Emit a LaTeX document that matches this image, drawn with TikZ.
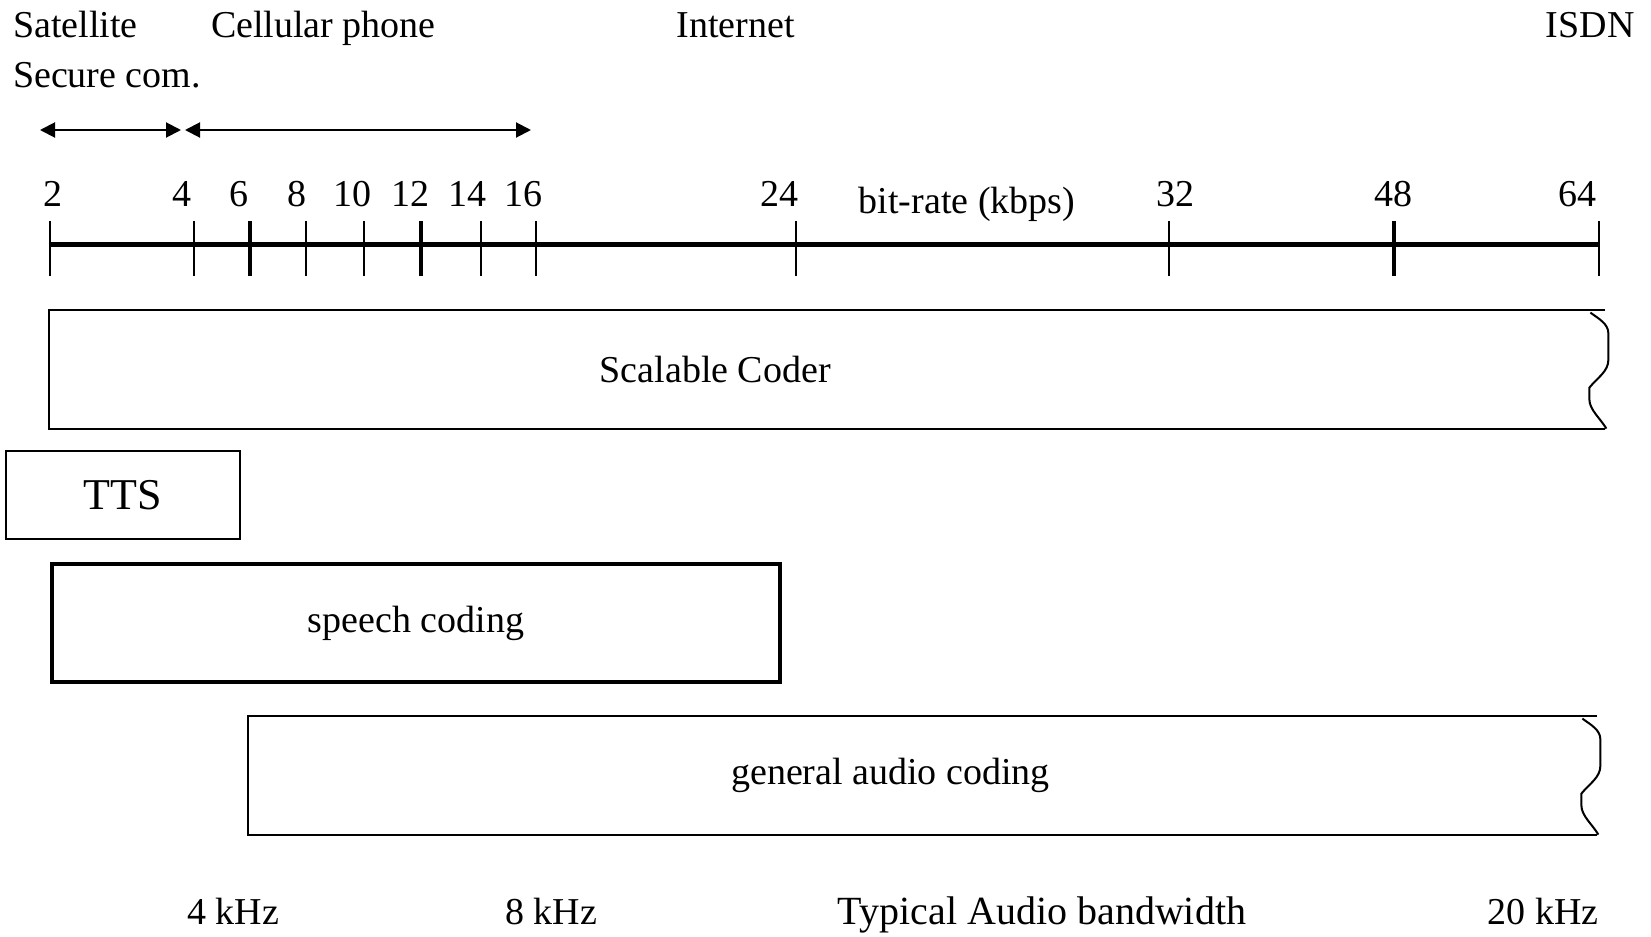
\documentclass[tikz,border=0pt]{standalone}
\usepackage{fontspec}
\setmainfont{Liberation Serif}
\usetikzlibrary{arrows.meta,positioning,calc}

\begin{document}
\begin{tikzpicture}[
    x=0.5pt, y=-0.5pt,
    arr/.style={{Triangle[length=7.5pt,width=7.5pt]}-{Triangle[length=7.5pt,width=7.5pt]}, line width=1pt},
    axisline/.style={line width=2.5pt},
    lbl/.style={font=\fontsize{19}{21}\selectfont, inner sep=0pt},
    num/.style={font=\fontsize{19}{21}\selectfont, inner sep=0pt, anchor=base},
    codebox/.style={draw, line width=1pt, inner sep=0pt},
    bandbox/.style={inner sep=0pt, minimum height=59.5pt},
    wavyend/.pic={\draw[line width=1pt] (-15,3) .. controls +(8,6) and +(0,-10) .. (3,24)
      -- (3,50) .. controls +(0,12) and +(8,-10) .. (-16,78)
      -- (-16,90) .. controls +(0,10) and +(-6,-10) .. (1,119);},
  ]
    \useasboundingbox (0,0) rectangle (1651,937);

    % Applications on top
    \node[num, anchor=base west] (sat) at (12.6,38) {Satellite};
    \node[num, anchor=base west] (sec) at (12.6,87) {Secure com.};
    \node[num, anchor=base west] (cell) at (210.6,38) {Cellular phone};
    \node[num, anchor=base west] (inet) at (676,38) {Internet};
    \node[num, anchor=base east] (isdn) at (1635,38) {ISDN};

    % Ranges
    \coordinate (satL) at (40,130);
    \coordinate (satR) at (181,130);
    \coordinate (cellL) at (185,130);
    \coordinate (cellR) at (531,130);
    \draw[arr] (satL) -- (satR);
    \draw[arr] (cellL) -- (cellR);

    % Bit-rate axis
    \draw[axisline] (49.5,244) -- (1598.5,244);
    \foreach \v/\x/\lx/\w in {2/49.5/52.6/1pt, 4/193.7/182/1pt, 6/249.5/239/2pt,
        8/306.4/297/1pt, 10/364.3/352.8/1pt, 12/421/410.7/2pt, 14/481/467.5/1pt,
        16/536/523.3/1.3pt, 24/796/779/1pt, 32/1168.5/1175/1pt, 48/1394/1393/2pt,
        64/1598.5/1577.4/1pt} {
      \coordinate (t\v) at (\x,244);
      \draw[line width=\w] (\x,221) -- (\x,276);
      \node[num] (n\v) at (\lx,206) {\v};
    }
    \node[num] (rate) at (967,213) {bit-rate (kbps)};

    % Scalable coder band
    \node[bandbox, minimum width=777.75pt] (scal) at (827.25,369.5) {};
    \draw[line width=1pt] (scal.north east) -- (scal.north west)
      -- (scal.south west) -- (scal.south east);
    \pic at (scal.north east) {wavyend};
    \node[lbl] (scaltxt) at ([xshift=-56pt]scal.center) {Scalable Coder};

    % TTS
    \node[codebox, minimum width=117pt, minimum height=44pt,
          font=\fontsize{22}{24}\selectfont] (tts) at (123,495) {TTS};

    % Speech coding
    \node[codebox, line width=1.8pt, minimum width=364pt, minimum height=59pt,
          font=\fontsize{19}{21}\selectfont] (speech) at (416,623) {speech coding};

    % General audio coding band
    \node[bandbox, minimum width=674.5pt] (audio) at (922.5,775.5) {};
    \draw[line width=1pt] (audio.north east) -- (audio.north west)
      -- (audio.south west) -- (audio.south east);
    \pic at (audio.north east) {wavyend};
    \node[lbl] (audiotxt) at ([xshift=-16pt]audio.center) {general audio coding};

    % Bandwidth labels
    \node[num] (bw4) at (233,924) {4 kHz};
    \node[num] (bw8) at (551,924) {8 kHz};
    \node[num, font=\fontsize{20}{22}\selectfont] (bw) at (1042,924) {Typical Audio bandwidth};
    \node[num] (bw20) at (1543,924) {20 kHz};
  \end{tikzpicture}
\end{document}
